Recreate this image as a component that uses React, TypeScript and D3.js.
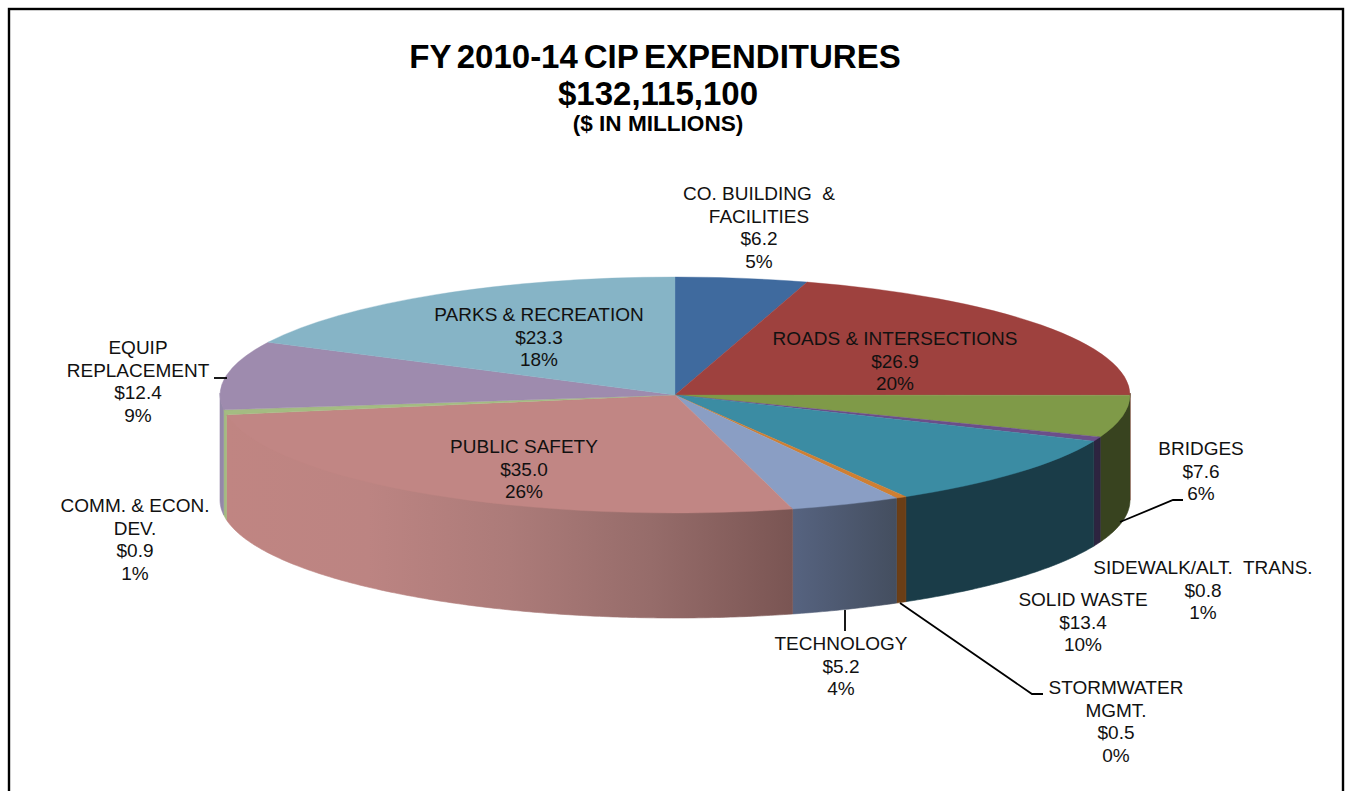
import React from "react";
import * as d3 from "d3";

const categories = [
  "CO. BUILDING & FACILITIES",
  "ROADS & INTERSECTIONS",
  "BRIDGES",
  "SIDEWALK/ALT. TRANS.",
  "SOLID WASTE",
  "STORMWATER MGMT.",
  "TECHNOLOGY",
  "PUBLIC SAFETY",
  "COMM. & ECON. DEV.",
  "EQUIP REPLACEMENT",
  "PARKS & RECREATION",
];
const values = [6.2, 26.9, 7.6, 0.8, 13.4, 0.5, 5.2, 35.0, 0.9, 12.4, 23.3];
const percents = ["5%", "20%", "6%", "1%", "10%", "0%", "4%", "26%", "1%", "9%", "18%"];
const nameLines = [
  ["CO. BUILDING\u00a0 &", "FACILITIES"],
  ["ROADS & INTERSECTIONS"],
  ["BRIDGES"],
  ["SIDEWALK/ALT.\u00a0 TRANS."],
  ["SOLID WASTE"],
  ["STORMWATER", "MGMT."],
  ["TECHNOLOGY"],
  ["PUBLIC SAFETY"],
  ["COMM. & ECON.", "DEV."],
  ["EQUIP", "REPLACEMENT"],
  ["PARKS & RECREATION"],
];

// colours, same order as categories
const topColors = [
  "#3f6a9e", "#9e413e", "#7f9a48", "#6b4f8a", "#3b8ca3", "#cf7f32",
  "#8a9ec4", "#c18684", "#a4bc82", "#9e8bae", "#86b4c6",
];
const wallStops = [
  ["#3f6a9e"], ["#9e413e"], ["#38431f"], ["#2d2440"], ["#1a3c48"], ["#6b3e16"],
  ["#566380", "#444e5f"],
  ["#c08582", "#bc8482", "#ac7b79", "#966c6a", "#7a5553"],
  ["#a4bc82"], ["#9488a8"], ["#86b4c6"],
];

// label anchor: centre x and first baseline
const labelAnchors = [
  [759, 200], [895, 345], [1201, 455], [1203, 574], [1083, 606], [1116, 694],
  [841, 650], [524, 453], [135, 512], [138, 354], [539, 321],
];
const lineStep = 22.5;

// leader lines
const leaders = [
  [[1120, 522], [1173, 500], [1183, 500]],
  [[900, 603], [1032, 694], [1043, 694]],
  [[845, 610], [845, 631]],
  [[214, 378], [227, 378]],
];

const cx = 675;
const cy = 395;
const rx = 455;
const ry = 118;
const depth = 105;

const xScale = d3.scaleLinear().domain([-1, 1]).range([cx - rx, cx + rx]);
const yScale = d3.scaleLinear().domain([-1, 1]).range([cy - ry, cy + ry]);

const slices = d3.pie<number>().sort(null).value(d => d)(values);
const topArc = d3.arc<d3.PieArcDatum<number>>().innerRadius(0).outerRadius(rx);

// y0 starts a bit high so the top face covers the seam
const wallArea = d3.area<number>()
  .x(a => xScale(Math.sin(a)))
  .y0(a => yScale(-Math.cos(a)) - 2)
  .y1(a => yScale(-Math.cos(a)) + depth);

// only the part of the rim facing the viewer gets a wall
function wallAngles(start: number, end: number) {
  const a0 = Math.max(start, Math.PI / 2);
  const a1 = Math.min(end, (3 * Math.PI) / 2);
  if (a1 <= a0) return null;
  const n = Math.max(2, Math.ceil((a1 - a0) / 0.01));
  return d3.range(n + 1).map(i => a0 + ((a1 - a0) * i) / n);
}

export default function App() {
  const walls = slices.map((s, i) => {
    const angles = wallAngles(s.startAngle, s.endAngle);
    if (!angles) return null;
    const xs = angles.map(a => xScale(Math.sin(a)));
    return {i, path: wallArea(angles), x0: d3.max(xs)!, x1: d3.min(xs)!};
  });

  return (
    <svg
      width={1351}
      height={791}
      style={{position: "absolute", left: 0, top: 0, background: "#fff"}}
      fontFamily="'Liberation Sans', Arial, sans-serif"
    >
      <defs>
        {walls.map(w => {
          if (!w || wallStops[w.i].length < 2) return null;
          const stops = wallStops[w.i];
          // front slices run right to left going clockwise, gradient is left to right
          return (
            <linearGradient
              key={w.i}
              id={`wall-${w.i}`}
              gradientUnits="userSpaceOnUse"
              x1={w.x1}
              x2={w.x0}
              y1={0}
              y2={0}
            >
              {stops.map((c, j) => (
                <stop key={j} offset={j / (stops.length - 1)} stopColor={c} />
              ))}
            </linearGradient>
          );
        })}
      </defs>

      <rect x={9} y={9} width={1334} height={810} fill="#fff" stroke="#000" strokeWidth={2.4} />

      <g textAnchor="middle" fontWeight="bold" fill="#000">
        <text x={655} y={68} fontSize={33} wordSpacing={-3.3}>FY 2010-14 CIP EXPENDITURES</text>
        <text x={658} y={105} fontSize={33}>$132,115,100</text>
        <text x={658} y={131} fontSize={22.6}>($ IN MILLIONS)</text>
      </g>

      <g>
        {walls.map(w => {
          if (!w) return null;
          const paint = wallStops[w.i].length > 1 ? `url(#wall-${w.i})` : wallStops[w.i][0];
          return <path key={w.i} d={w.path!} fill={paint} stroke={paint} strokeWidth={0.6} />;
        })}
      </g>

      <g transform={`translate(${cx},${cy}) scale(1,${ry / rx})`}>
        {slices.map((s, i) => (
          <path
            key={categories[i]}
            d={topArc(s)!}
            fill={topColors[i]}
            stroke={topColors[i]}
            strokeWidth={0.6}
          />
        ))}
      </g>

      <g fill="none" stroke="#000" strokeWidth={1.8}>
        {leaders.map((pts, i) => (
          <path key={i} d={d3.line()(pts as [number, number][])!} />
        ))}
      </g>

      <g textAnchor="middle" fontSize={19} fill="#111">
        {categories.map((c, i) => {
          const lines = [...nameLines[i], `$${values[i].toFixed(1)}`, percents[i]];
          return (
            <text key={c} x={labelAnchors[i][0]} y={labelAnchors[i][1]}>
              {lines.map((l, j) => (
                <tspan key={j} x={labelAnchors[i][0]} dy={j === 0 ? 0 : lineStep}>{l}</tspan>
              ))}
            </text>
          );
        })}
      </g>
    </svg>
  );
}
